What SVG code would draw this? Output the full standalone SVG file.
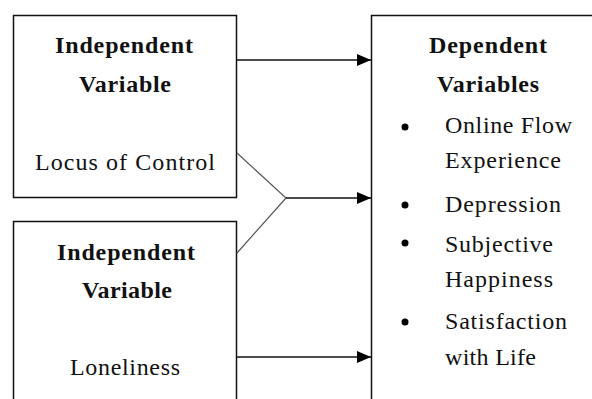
<svg xmlns="http://www.w3.org/2000/svg" width="592" height="399" viewBox="0 0 592 399">
<style>
.box{fill:#fff;stroke:#111;stroke-width:1.5}
.t{font-family:"Liberation Serif","Times New Roman",serif;font-size:24px;fill:#111}
.b{font-weight:bold}
.c{stroke:#111;stroke-width:1.6;fill:none}
.d{stroke:#555;stroke-width:1.2;fill:none}
.dot{fill:#000}
</style>
<defs>
<marker id="ah" markerWidth="14" markerHeight="12" refX="14" refY="6" orient="auto" markerUnits="userSpaceOnUse">
<path d="M0,0 L14,6 L0,12 Z" fill="#000"/>
</marker>
</defs>
<g id="iv1">
<rect class="box" x="13.5" y="15.5" width="223" height="182"/>
<text class="t b" x="55" y="53" textLength="138" lengthAdjust="spacing">Independent</text>
<text class="t b" x="79" y="92" textLength="92" lengthAdjust="spacing">Variable</text>
<text class="t" x="35" y="170" textLength="180" lengthAdjust="spacing">Locus of Control</text>
</g>
<g id="iv2">
<rect class="box" x="13.5" y="221.5" width="223" height="190"/>
<text class="t b" x="57" y="260" textLength="138" lengthAdjust="spacing">Independent</text>
<text class="t b" x="82" y="298" textLength="90" lengthAdjust="spacing">Variable</text>
<text class="t" x="70" y="375" textLength="110" lengthAdjust="spacing">Loneliness</text>
</g>
<g id="dv">
<rect class="box" x="371.5" y="15.5" width="240" height="400"/>
<text class="t b" x="429" y="53" textLength="118" lengthAdjust="spacing">Dependent</text>
<text class="t b" x="437" y="92" textLength="102" lengthAdjust="spacing">Variables</text>
<circle class="dot" cx="405" cy="127" r="3.5"/>
<text class="t" x="445" y="133" textLength="127" lengthAdjust="spacing">Online Flow</text>
<text class="t" x="445" y="168" textLength="116" lengthAdjust="spacing">Experience</text>
<circle class="dot" cx="405" cy="205" r="3.5"/>
<text class="t" x="445" y="212" textLength="116" lengthAdjust="spacing">Depression</text>
<circle class="dot" cx="405" cy="243" r="3.5"/>
<text class="t" x="445" y="252" textLength="108" lengthAdjust="spacing">Subjective</text>
<text class="t" x="445" y="287" textLength="108" lengthAdjust="spacing">Happiness</text>
<circle class="dot" cx="405" cy="322" r="3.5"/>
<text class="t" x="445" y="329" textLength="122" lengthAdjust="spacing">Satisfaction</text>
<text class="t" x="445" y="365" textLength="91" lengthAdjust="spacing">with Life</text>
</g>
<g id="connectors">
<line class="c" x1="237" y1="60" x2="371" y2="60" marker-end="url(#ah)"/>
<polyline class="d" points="237,153 286,198 237,253"/>
<line class="c" x1="286" y1="198" x2="371" y2="198" marker-end="url(#ah)"/>
<line class="c" x1="237" y1="357" x2="371" y2="357" marker-end="url(#ah)"/>
</g>
</svg>
